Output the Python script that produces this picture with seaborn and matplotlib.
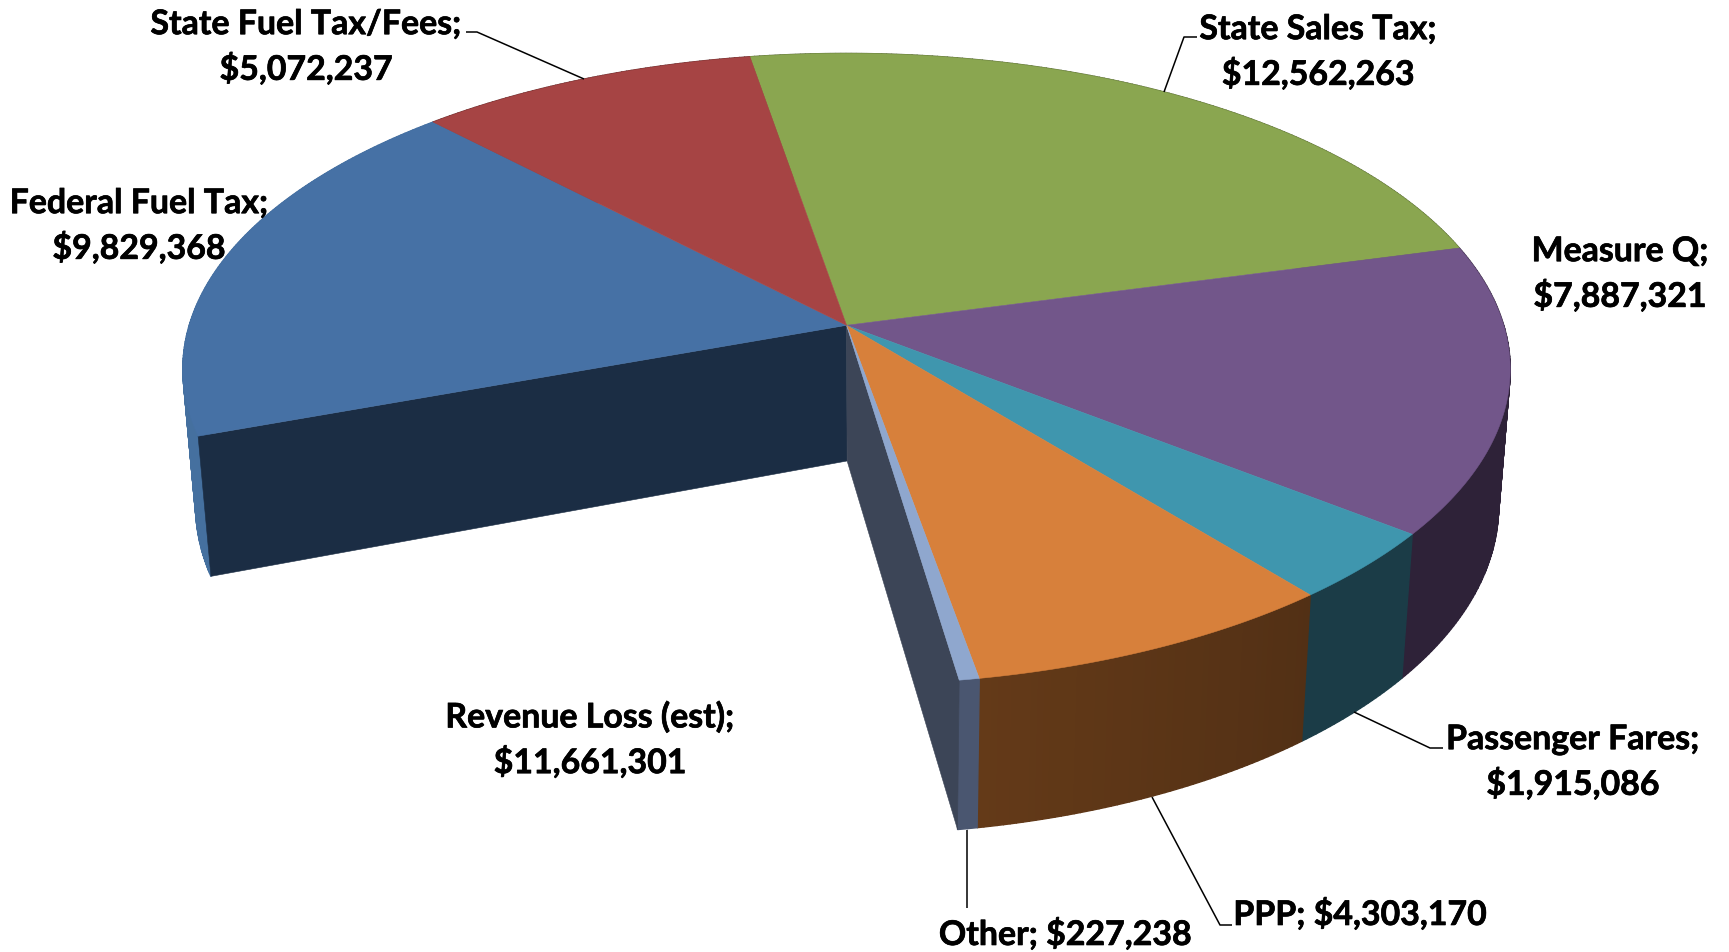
import matplotlib
matplotlib.use('Agg')
import matplotlib.pyplot as plt
import matplotlib.patheffects as pe
from matplotlib.colors import to_rgb
from matplotlib.patches import Polygon
import numpy as np
import seaborn as sns

# Slices, clockwise from the top of the disc
names = ['State Sales Tax', 'Measure Q', 'Passenger Fares', 'PPP', 'Other', 'Revenue Loss (est)', 'Federal Fuel Tax', 'State Fuel Tax/Fees']
values = [12562263, 7887321, 1915086, 4303170, 227238, 11661301, 9829368, 5072237]
value_labels = ['$12,562,263', '$7,887,321', '$1,915,086', '$4,303,170', '$227,238', '$11,661,301', '$9,829,368', '$5,072,237']

# Revenue Loss is pulled out of the chart, only an empty gap is left for it
top_colors = ['#8AA650', '#72568A', '#3F96AE', '#D7803B', '#8FA7CE', None, '#4671A5', '#A64444']
wall_start = ['#556632', '#2E2238', '#1B3C47', '#643A18', '#4A5670', None, '#45709F', '#632929']
wall_end = ['#556632', '#2E2238', '#1B3C47', '#523015', '#4A5670', None, '#45709F', '#632929']
FED_CUT = '#1B2D44'
OTHER_CUT = '#3C4557'

# Perspective of the disc, unit circle to pixels
H_TOP = np.array([[667.698, 5.796, 846.570], [-44.007, -260.654, 326.307], [0.023227, 0.136661, 1.0]])
H_BOTTOM = np.array([[667.698, 5.796, 862.659], [-44.007, -260.654, 470.443], [0.023227, 0.136661, 1.018333]])

# label text, centre x, centre y
label_spots = {
    'State Sales Tax': (1318, 53),
    'Measure Q': (1620, 275),
    'Passenger Fares': (1573, 763),
    'PPP': (1360, 915),
    'Other': (1065, 935),
    'Revenue Loss (est)': (590, 741),
    'Federal Fuel Tax': (139, 227),
    'State Fuel Tax/Fees': (306, 48),
}
one_line = ['PPP', 'Other']

leaders = [
    [(466, 33), (477, 33), (584, 80)],
    [(1164, 93), (1184, 38), (1197, 38)],
    [(1354, 713), (1430, 749), (1443, 749)],
    [(1152, 798), (1220, 926), (1232, 926)],
    [(967, 831), (967, 909)],
]


def project(H, angles):
    rad = np.radians(angles)
    pts = H @ np.vstack([np.cos(rad), np.sin(rad), np.ones_like(rad)])
    return (pts[:2] / pts[2]).T


def centre(H):
    return H[:2, 2] / H[2, 2]


sns.set_theme(style='white')
plt.rcParams['font.family'] = ['Lato', 'DejaVu Sans']

fig, ax = plt.subplots(figsize=(17.29, 9.53), dpi=100)

# let pie work out the angles, then redraw the wedges in perspective
wedges, _ = ax.pie(values, startangle=90, counterclock=False)
angles = [(float(w.theta1), float(w.theta2)) for w in wedges]
for w in wedges:
    w.remove()

ax.set_aspect('auto')
ax.set_position([0, 0, 1, 1])
ax.set_xlim(0, 1729)
ax.set_ylim(953, 0)
ax.axis('off')

palette = sns.color_palette([c for c in top_colors if c])

# outer walls, small quads because the top and bottom arcs cross at the sides
for (t1, t2), c1, c2 in zip(angles, wall_start, wall_end):
    if c1 is None:
        continue
    steps = max(int(t2 - t1) * 2, 2)
    arc = np.linspace(t1, t2, steps + 1)
    up = project(H_TOP, arc)
    down = project(H_BOTTOM, arc)
    for i in range(steps):
        mix = i / steps
        col = tuple((1 - mix) * a + mix * b for a, b in zip(to_rgb(c1), to_rgb(c2)))
        quad = [up[i], up[i + 1], down[i + 1], down[i]]
        ax.add_patch(Polygon(quad, closed=True, fc=col, ec=col, lw=1.0, zorder=1))

# cut faces either side of the gap
gap_start, gap_end = angles[5]
for t, col in [(gap_start, FED_CUT), (gap_end, OTHER_CUT)]:
    edge_up = project(H_TOP, np.array([t]))[0]
    edge_down = project(H_BOTTOM, np.array([t]))[0]
    face = [centre(H_TOP), edge_up, edge_down, centre(H_BOTTOM)]
    ax.add_patch(Polygon(face, closed=True, fc=col, ec=col, lw=0.4, zorder=2))

# top faces
i_col = 0
for (t1, t2), c in zip(angles, top_colors):
    if c is None:
        continue
    arc = project(H_TOP, np.linspace(t1, t2, max(int(t2 - t1) * 2, 2) + 1))
    face = np.vstack([centre(H_TOP), arc])
    ax.add_patch(Polygon(face, closed=True, fc=palette[i_col], ec=palette[i_col], lw=0.4, zorder=3))
    i_col += 1

for line in leaders:
    xs, ys = zip(*line)
    ax.plot(xs, ys, color='black', lw=1.1, zorder=4, solid_capstyle='butt')

# Lato bold comes out a little thin next to the original, thicken it a bit
for name, val in zip(names, value_labels):
    x, y = label_spots[name]
    sep = ' ' if name in one_line else '\n'
    ax.text(x, y, f'{name};{sep}{val}', ha='center', va='center', color='black',
            fontsize=24.4, fontweight='bold', linespacing=1.42, zorder=5,
            path_effects=[pe.withStroke(linewidth=0.5, foreground='black')])

fig.savefig('out.png', dpi=100)
